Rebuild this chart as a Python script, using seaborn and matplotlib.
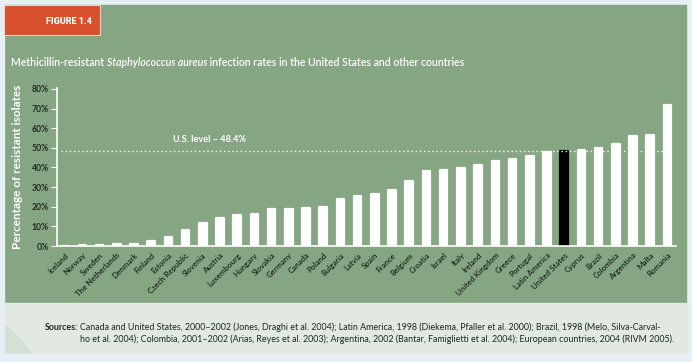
import matplotlib

matplotlib.use("Agg")

import matplotlib.pyplot as plt
import pandas as pd
import seaborn as sns
from matplotlib.patches import Ellipse, Rectangle

COUNTRIES = [
    "Iceland", "Norway", "Sweden", "The Netherlands", "Denmark", "Finland",
    "Estonia", "Czech Republic", "Slovenia", "Austria", "Luxembourg", "Hungary",
    "Slovakia", "Germany", "Canada", "Poland", "Bulgaria", "Latvia", "Spain",
    "France", "Belgium", "Croatia", "Israel", "Italy", "Ireland",
    "United Kingdom", "Greece", "Portugal", "Latin America", "United States",
    "Cyprus", "Brazil", "Colombia", "Argentina", "Malta", "Romania",
]
RATES = [
    0.0, 0.5, 0.5, 1.0, 1.2, 2.7,
    4.7, 8.1, 11.5, 14.2, 15.6, 16.3,
    18.6, 19.0, 19.5, 19.7, 23.7, 25.4, 26.4,
    28.6, 33.2, 38.0, 38.8, 39.7, 41.4,
    43.4, 44.2, 46.1, 48.0, 48.4,
    48.8, 50.0, 52.2, 56.1, 56.4, 71.7,
]
US_LEVEL = 48.4
Y_TICKS = [0, 10, 20, 30, 40, 50, 60, 70, 80]

TITLE_PLAIN_1 = "Methicillin-resistant "
TITLE_ITALIC = "Staphylococcus aureus"
TITLE_PLAIN_2 = " infection rates in the United States and other countries"
SOURCES_1 = ("Canada and United States, 2000\u20132002 (Jones, Draghi et al. 2004); "
             "Latin America, 1998 (Diekema, Pfaller et al. 2000); Brazil, 1998 (Melo, Silva-Carval-")
SOURCES_2 = ("ho et al. 2004); Colombia, 2001\u20132002 (Arias, Reyes et al. 2003); Argentina, 2002 "
             "(Bantar, Famiglietti et al. 2004); European countries, 2004 (RIVM 2005).")

W, H = 692, 362
BG = "#e7eff6"
GREEN = "#86a583"
ORANGE = "#d8502c"
FOOT = "#e1e9e1"
DARK = "#1e2a1e"


def fx(x):
    return x / W


def fy(y):
    return 1 - y / H


sns.set_theme(style="white")
plt.rcParams["font.family"] = ["Lato", "DejaVu Sans"]

df = pd.DataFrame({"country": COUNTRIES, "rate": RATES})
colors = {c: ("#000000" if c == "United States" else "#ffffff") for c in COUNTRIES}

fig = plt.figure(figsize=(W / 100, H / 100), dpi=100, facecolor=BG)

# panels
fig.add_artist(Rectangle((fx(4), fy(303)), fx(686) - fx(4), fy(5) - fy(303),
                         transform=fig.transFigure, color=GREEN, zorder=0))
fig.add_artist(Rectangle((fx(4), fy(354)), fx(687) - fx(4), fy(303) - fy(354),
                         transform=fig.transFigure, color=FOOT, zorder=0))
fig.add_artist(Ellipse((fx(-120), fy(400)), fx(330), (fy(0) - fy(230)),
                       transform=fig.transFigure, color="#d5e0d4", zorder=0.1))
fig.add_artist(Rectangle((fx(0), fy(362)), fx(4), 1, transform=fig.transFigure,
                         color=BG, zorder=0.2))
fig.add_artist(Rectangle((fx(0), fy(362)), 1, fy(354) - fy(362), transform=fig.transFigure,
                         color=BG, zorder=0.2))
fig.add_artist(Rectangle((fx(4), fy(35)), fx(100) - fx(4), fy(5) - fy(35),
                         transform=fig.transFigure, facecolor=ORANGE,
                         edgecolor="#f3d2c4", linewidth=0.8, zorder=0.5))
fig.text(fx(92), fy(21), "FIGURE 1.4", color="white", fontsize=6.5, fontweight="heavy",
         ha="right", va="center", family=["Roboto", "DejaVu Sans"])

# title
TITLE_SIZE = 7.6
t = fig.text(fx(11), fy(62), TITLE_PLAIN_1, color="white", fontsize=TITLE_SIZE,
             va="center", fontweight="semibold")
fig.canvas.draw()
r = fig.canvas.get_renderer()
x_next = t.get_window_extent(r).x1 / W
t2 = fig.text(x_next, fy(62), TITLE_ITALIC, color="white", fontsize=TITLE_SIZE, va="center",
              style="italic", fontweight="semibold")
x_next = t2.get_window_extent(r).x1 / W
fig.text(x_next, fy(62), TITLE_PLAIN_2, color="white", fontsize=TITLE_SIZE, va="center",
         fontweight="semibold")

ax = fig.add_axes([fx(57), fy(246), fx(676) - fx(57), fy(88) - fy(246)])
ax.set_facecolor("none")

sns.barplot(data=df, x="country", y="rate", hue="country", palette=colors,
            order=COUNTRIES, width=0.44, legend=False, ax=ax, saturation=1)
for patch, c in zip(ax.patches, COUNTRIES):
    patch.set_edgecolor(colors[c])
    patch.set_linewidth(1.6)
    patch.set_joinstyle("round")

ax.hlines(US_LEVEL, -0.25, 34.75, colors="white", linestyles=(0, (1, 2)), linewidth=1)
ax.text(8.4, 54.3, "U.S. level \u2013 48.4%", color="white", fontsize=6.6,
        fontweight="bold", ha="center", va="center")

ax.set_xlim(-0.47, 35.5)
ax.set_ylim(0, 80.5)
ax.set_yticks(Y_TICKS)
ax.set_yticklabels([f"{v}%" for v in Y_TICKS], color=DARK, fontsize=6.2, fontweight="bold")
ax.set_xticks(range(len(COUNTRIES)))
ax.set_xticklabels(COUNTRIES, rotation=45, ha="right", rotation_mode="anchor",
                   color=DARK, fontsize=5.8, fontweight="semibold")
ax.set_xticks([i + 0.5 for i in range(len(COUNTRIES))], minor=True)
ax.tick_params(axis="x", which="major", length=0, pad=4)
ax.tick_params(axis="x", which="minor", direction="in", length=3, width=0.8, color="white")
ax.tick_params(axis="y", direction="out", length=4, width=0.8, color="white", pad=2, left=True)
ax.set_xlabel("")
ax.set_ylabel("Percentage of resistant isolates", color="white", fontsize=8.5,
              fontweight="bold", labelpad=6)
for side in ["top", "right"]:
    ax.spines[side].set_visible(False)
for side in ["left", "bottom"]:
    ax.spines[side].set_color("white")
    ax.spines[side].set_linewidth(1.2)
ax.grid(False)

# sources
SRC_SIZE = 6.4
s = fig.text(fx(45), fy(327), "Sources:", color=DARK, fontsize=SRC_SIZE, fontweight="bold",
             va="center")
fig.canvas.draw()
x_next = s.get_window_extent(fig.canvas.get_renderer()).x1 / W
fig.text(x_next + 0.003, fy(327), SOURCES_1, color=DARK, fontsize=SRC_SIZE, va="center")
fig.text(fx(674), fy(339), SOURCES_2, color=DARK, fontsize=SRC_SIZE, va="center", ha="right")

fig.savefig("out.png", dpi=100, facecolor=BG)
